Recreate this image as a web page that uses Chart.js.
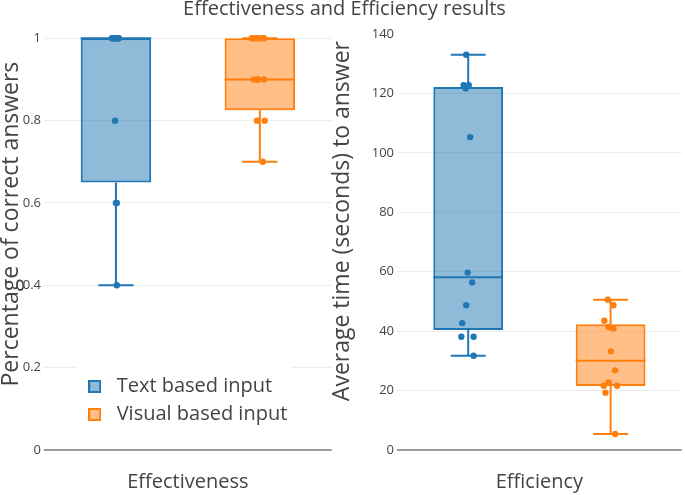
<!DOCTYPE html>
<html><head><meta charset="utf-8">
<script src="https://cdn.jsdelivr.net/npm/chart.js@4.4.0/dist/chart.umd.min.js"></script>
<style>
html,body{margin:0;padding:0;background:#fff;}
#wrap{position:relative;width:685px;height:495px;overflow:hidden;}
#title{position:absolute;left:0;top:-2px;width:689px;text-align:center;font:20px/20px 'Open Sans',sans-serif;color:#444;white-space:nowrap;}
#p1{position:absolute;left:0;top:0;width:335px;height:495px;}
#p2{position:absolute;left:330px;top:0;width:355px;height:495px;}
</style></head><body>
<div id="wrap">
<div id="p1"><canvas id="c1" width="335" height="495"></canvas></div>
<div id="p2"><canvas id="c2" width="355" height="495"></canvas></div>
<div id="title">Effectiveness and Efficiency results</div>
</div>
<script>
const categories = ['Effectiveness', 'Efficiency'];
const seriesNames = ['Text based input', 'Visual based input'];
const seriesColors = ['31,119,180', '255,127,14'];
const yTitles = ['Percentage of correct answers', 'Average time (seconds) to answer'];
const effTicks = [0, 0.2, 0.4, 0.6, 0.8, 1];
const timeTicks = [0, 20, 40, 60, 80, 100, 120, 140];

// box statistics [text, visual]
const effQ1 = [0.65, 0.825];
const effMedian = [1, 0.9];
const effQ3 = [1, 1];
const effLower = [0.4, 0.7];
const effUpper = [1, 1];
const timeQ1 = [40.4, 21.5];
const timeMedian = [58.1, 30.0];
const timeQ3 = [122.2, 42.3];
const timeLower = [31.7, 5.4];
const timeUpper = [133, 50.6];

// individual observations and their horizontal jitter (fraction of panel width)
const effText = [1, 1, 1, 1, 1, 1, 1, 1, 0.8, 0.6, 0.6, 0.4];
const effTextJitter = [-0.014, -0.007, 0.0, 0.007, 0.010, -0.010, 0.003, -0.003, -0.003, 0.0, 0.003, 0.003];
const effVisual = [1, 1, 1, 1, 1, 0.9, 0.9, 0.9, 0.9, 0.8, 0.8, 0.7];
const effVisualJitter = [-0.028, -0.017, -0.007, 0.007, 0.014, -0.021, -0.007, 0.014, -0.007, -0.010, 0.017, 0.010];
const timeText = [133, 122.8, 122.8, 121.7, 105.3, 59.7, 56.4, 48.7, 42.7, 38.1, 38.1, 31.7];
const timeTextJitter = [-0.007, -0.016, 0.002, -0.009, 0.007, -0.002, 0.014, -0.007, -0.021, -0.024, 0.019, 0.019];
const timeVisual = [50.6, 48.7, 43.5, 41.4, 40.9, 33.2, 26.8, 22.7, 21.6, 21.6, 19.3, 5.4];
const timeVisualJitter = [-0.010, 0.010, -0.022, -0.007, 0.010, 0.001, 0.016, -0.007, -0.024, 0.023, -0.018, 0.016];

Chart.defaults.font.family = "'Open Sans', sans-serif";
Chart.defaults.color = '#444';

const BOX_FRAC = 0.49;          // box width relative to its slot
const HALF_BOX = BOX_FRAC / 4;  // in panel units (slot = 0.5)
const HALF_CAP = HALF_BOX / 2;

function rgba(c, a) { return 'rgba(' + c + ',' + a + ')'; }

function swatch(s) {
  const cv = document.createElement('canvas');
  cv.width = 13; cv.height = 13;
  const g = cv.getContext('2d');
  g.fillStyle = rgba(seriesColors[s], 0.5);
  g.fillRect(1, 1, 11, 11);
  g.strokeStyle = rgba(seriesColors[s], 1);
  g.lineWidth = 2;
  g.strokeRect(1, 1, 11, 11);
  return cv;
}

const legendPlacer = {
  id: 'legendPlacer',
  afterLayout(chart) {
    const lg = chart.legend;
    if (!lg || !lg.options.display) return;
    const ca = chart.chartArea;
    lg.left = ca.left + 30.7;
    lg.top = ca.top + 334.4;
    lg.right = lg.left + 240;
    lg.bottom = lg.top + 80;
    if (!lg._wrapped) {
      const orig = lg.draw.bind(lg);
      lg.draw = function (area) {
        const c = chart.ctx;
        c.save();
        c.fillStyle = '#fff';
        c.fillRect(lg.left + 2, lg.top - 6, 216, 70);
        c.restore();
        orig(area);
      };
      lg._wrapped = true;
    }
  }
};

function buildPanel(canvasId, catIdx, q1, med, q3, lo, hi, pts, jit, ticks, yMax, yWidth, padRight, withLegend, titleLead, titlePad) {
  const datasets = [];
  for (let s = 0; s < 2; s++) {
    const col = seriesColors[s];
    const c = 0.25 + 0.5 * s;
    const barData = [null, null];
    barData[s] = [q1[s], q3[s]];
    datasets.push({
      type: 'bar', label: seriesNames[s], data: barData,
      xAxisID: 'x', yAxisID: 'y', grouped: false,
      backgroundColor: rgba(col, 0.5), borderColor: rgba(col, 1), borderWidth: 2,
      borderSkipped: false, barPercentage: BOX_FRAC, categoryPercentage: 1, order: 2
    });
    datasets.push({
      type: 'scatter', label: seriesNames[s] + ' whiskers',
      data: [
        {x: c - HALF_BOX, y: med[s]}, {x: c + HALF_BOX, y: med[s]}, {x: c, y: null},
        {x: c, y: q3[s]}, {x: c, y: hi[s]}, {x: c, y: null},
        {x: c - HALF_CAP, y: hi[s]}, {x: c + HALF_CAP, y: hi[s]}, {x: c, y: null},
        {x: c, y: q1[s]}, {x: c, y: lo[s]}, {x: c, y: null},
        {x: c - HALF_CAP, y: lo[s]}, {x: c + HALF_CAP, y: lo[s]}
      ],
      showLine: true, spanGaps: false, pointRadius: 0, pointHoverRadius: 0,
      borderColor: rgba(col, 1), borderWidth: 2, xAxisID: 'xl', yAxisID: 'y', order: 1
    });
    datasets.push({
      type: 'scatter', label: seriesNames[s] + ' points',
      data: pts[s].map((v, i) => ({x: c + jit[s][i], y: v})),
      pointRadius: 3.2, pointHoverRadius: 3.2, backgroundColor: rgba(col, 1), borderWidth: 0,
      xAxisID: 'xl', yAxisID: 'y', order: 0
    });
  }
  const topTick = ticks[ticks.length - 1];
  return new Chart(document.getElementById(canvasId), {
    type: 'bar',
    data: { labels: seriesNames, datasets },
    options: {
      responsive: false, animation: false, events: [],
      layout: { padding: { top: 34, right: padRight, left: 0, bottom: 0 } },
      plugins: {
        title: { display: false },
        tooltip: { enabled: false },
        legend: {
          display: withLegend, position: 'chartArea', align: 'start',
          labels: {
            usePointStyle: true, pointStyleWidth: 24, padding: 8,
            font: { size: 20 }, color: '#444',
            generateLabels: (chart) => [0, 1].map(s => ({
              text: seriesNames[s], pointStyle: swatch(s),
              fillStyle: rgba(seriesColors[s], 0.5), strokeStyle: rgba(seriesColors[s], 1),
              lineWidth: 0, hidden: false, datasetIndex: s * 3, fontColor: '#444'
            }))
          }
        }
      },
      scales: {
        x: {
          type: 'category', offset: true,
          grid: { display: false }, border: { display: false },
          ticks: { display: false },
          title: { display: true, text: categories[catIdx], font: { size: 20 }, color: '#444', padding: { top: 0, bottom: 0.3 } },
          afterFit: (sc) => { sc.height = 45; }
        },
        xl: { type: 'linear', min: 0, max: 1, offset: false, display: false },
        y: {
          type: 'linear', min: 0, max: yMax,
          border: { display: false },
          grid: {
            drawTicks: false,
            color: (ctx) => ctx.tick && ctx.tick.value === 0 ? '#9a9a9a'
              : (ctx.tick && ctx.tick.value === topTick && yMax <= topTick ? 'rgba(0,0,0,0)' : '#ececec'),
            lineWidth: (ctx) => ctx.tick && ctx.tick.value === 0 ? 2 : 1
          },
          ticks: { font: { size: 13 }, color: '#444', padding: 3, callback: (v) => String(v) },
          afterBuildTicks: (sc) => { sc.ticks = ticks.map(v => ({ value: v })); },
          title: { display: true, text: titleLead + yTitles[catIdx], font: { size: 23 }, color: '#444', padding: { top: titlePad, bottom: 0 } },
          afterFit: (sc) => { sc.width = yWidth; }
        }
      }
    },
    plugins: [legendPlacer]
  });
}

buildPanel('c1', 0, effQ1, effMedian, effQ3, effLower, effUpper,
  [effText, effVisual], [effTextJitter, effVisualJitter], effTicks, 1.0104, 44, 3, true, '      ', -2.5);
buildPanel('c2', 1, timeQ1, timeMedian, timeQ3, timeLower, timeUpper,
  [timeText, timeVisual], [timeTextJitter, timeVisualJitter], timeTicks, 140, 67, 0, false, '       ', -1);
</script>
</body></html>
